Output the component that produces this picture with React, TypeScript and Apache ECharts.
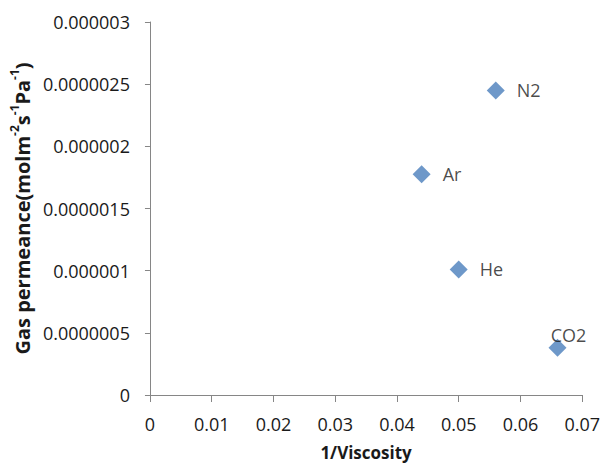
import React, { useEffect, useRef } from "react";
import * as echarts from "echarts";

const gases = ["N2", "Ar", "He", "CO2"];
const inverseViscosity = [0.056, 0.044, 0.05, 0.066];
const permeance = [2.45e-6, 1.775e-6, 1.01e-6, 0.38e-6];
const yTickLabels = ["0", "0.0000005", "0.000001", "0.0000015", "0.000002", "0.0000025", "0.000003"];

export default function App() {
  const ref = useRef<HTMLDivElement>(null);
  useEffect(() => {
    if (!ref.current) return;
    const chart = echarts.init(ref.current, null, { renderer: "svg" });
    const font = "'Open Sans', 'Liberation Sans', sans-serif";
    const textColor = "#1a1a1a";
    const axisColor = "#868686";
    const data = gases.map((g, i) => {
      const isTop = g === "CO2";
      return {
        name: g,
        value: [inverseViscosity[i], permeance[i]],
        label: {
          show: true,
          position: isTop ? "inside" : "right",
          distance: 12,
          offset: isTop ? [11, -13] : [0, 0],
          formatter: g,
          color: textColor,
          fontSize: 18,
          fontFamily: font,
        },
      };
    });
    chart.setOption({
      animation: false,
      grid: { left: 148, right: 17, top: 22, bottom: 77 },
      xAxis: {
        type: "value",
        min: 0,
        max: 0.07,
        interval: 0.01,
        name: "1/Viscosity",
        nameLocation: "middle",
        nameGap: 49,
        nameTextStyle: { fontSize: 17, fontWeight: "bold", color: textColor, fontFamily: font },
        axisLine: { show: true, lineStyle: { color: axisColor } },
        axisTick: { show: true, length: 7, lineStyle: { color: axisColor } },
        axisLabel: { color: textColor, fontSize: 18, fontFamily: font, margin: 20 },
        splitLine: { show: false },
      },
      yAxis: {
        type: "value",
        min: 0,
        max: 3e-6,
        interval: 5e-7,
        name: "{b|Gas permeance(molm}{s|-2}{b|s}{s|-1}{b|Pa}{s|-1}{b|)}",
        nameLocation: "middle",
        nameGap: 113,
        nameTextStyle: {
          fontFamily: font,
          rich: {
            b: { fontSize: 20, fontWeight: "bold", color: textColor, fontFamily: font, verticalAlign: "bottom", lineHeight: 24 },
            s: { fontSize: 12, fontWeight: "bold", color: textColor, fontFamily: font, verticalAlign: "top", lineHeight: 24 },
          },
        },
        axisLine: { show: true, lineStyle: { color: axisColor } },
        axisTick: { show: true, length: 5, lineStyle: { color: axisColor } },
        axisLabel: {
          color: textColor,
          fontSize: 18,
          fontFamily: font,
          margin: 20,
          formatter: (v: number) => yTickLabels[Math.round(v / 5e-7)] ?? "",
        },
        splitLine: { show: false },
      },
      series: [
        {
          type: "scatter",
          symbol: "diamond",
          symbolSize: 18,
          itemStyle: { color: "#4a7ebb" },
          data,
        },
      ],
    });
    return () => chart.dispose();
  }, []);
  return <div ref={ref} style={{ position: "absolute", left: 0, top: 0, width: 603, height: 472 }} />;
}
